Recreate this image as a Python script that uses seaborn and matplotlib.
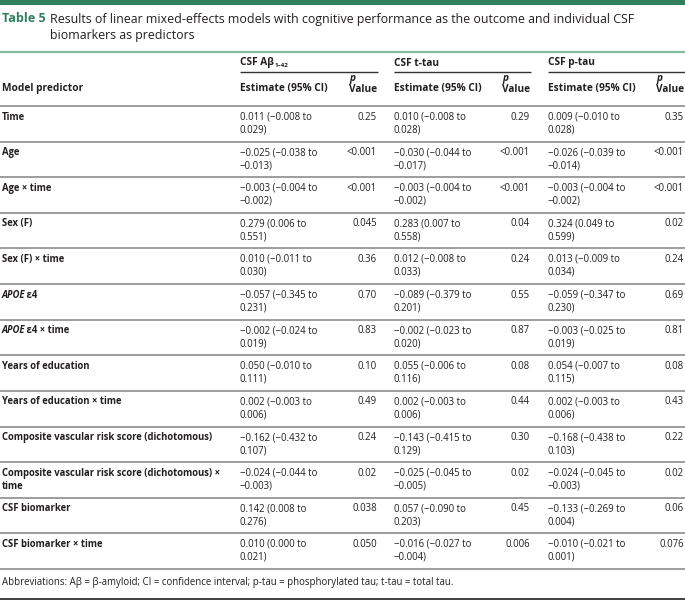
import matplotlib
matplotlib.use("Agg")
import matplotlib.pyplot as plt
import seaborn as sns

sns.set_theme(style="white")
plt.rcParams["font.family"] = ["Open Sans", "DejaVu Sans"]

W, H = 685, 600
GREEN = "#2f7f5c"
TEXT = "#231f20"
RULE = "#8c8c8c"
FS_HEAD = 7.3
FS_LAB = 6.85
FS = 6.9
CAP_FS = 8.95

predictors = [
    "Time", "Age", "Age × time", "Sex (F)", "Sex (F) × time",
    "APOE| ε4", "APOE| ε4 × time", "Years of education",
    "Years of education × time",
    "Composite vascular risk score (dichotomous)",
    "Composite vascular risk score (dichotomous) ×\ntime",
    "CSF biomarker", "CSF biomarker × time",
]

groups = ["CSF Aβ", "CSF t-tau", "CSF p-tau"]

ab_est = ["0.011", "−0.025", "−0.003", "0.279", "0.010", "−0.057", "−0.002",
          "0.050", "0.002", "−0.162", "−0.024", "0.142", "0.010"]
ab_lo = ["−0.008", "−0.038", "−0.004", "0.006", "−0.011", "−0.345", "−0.024",
         "−0.010", "−0.003", "−0.432", "−0.044", "0.008", "0.000"]
ab_hi = ["0.029", "−0.013", "−0.002", "0.551", "0.030", "0.231", "0.019",
         "0.111", "0.006", "0.107", "−0.003", "0.276", "0.021"]
ab_p = ["0.25", "<0.001", "<0.001", "0.045", "0.36", "0.70", "0.83",
        "0.10", "0.49", "0.24", "0.02", "0.038", "0.050"]

tt_est = ["0.010", "−0.030", "−0.003", "0.283", "0.012", "−0.089", "−0.002",
          "0.055", "0.002", "−0.143", "−0.025", "0.057", "−0.016"]
tt_lo = ["−0.008", "−0.044", "−0.004", "0.007", "−0.008", "−0.379", "−0.023",
         "−0.006", "−0.003", "−0.415", "−0.045", "−0.090", "−0.027"]
tt_hi = ["0.028", "−0.017", "−0.002", "0.558", "0.033", "0.201", "0.020",
         "0.116", "0.006", "0.129", "−0.005", "0.203", "−0.004"]
tt_p = ["0.29", "<0.001", "<0.001", "0.04", "0.24", "0.55", "0.87",
        "0.08", "0.44", "0.30", "0.02", "0.45", "0.006"]

pt_est = ["0.009", "−0.026", "−0.003", "0.324", "0.013", "−0.059", "−0.003",
          "0.054", "0.002", "−0.168", "−0.024", "−0.133", "−0.010"]
pt_lo = ["−0.010", "−0.039", "−0.004", "0.049", "−0.009", "−0.347", "−0.025",
         "−0.007", "−0.003", "−0.438", "−0.045", "−0.269", "−0.021"]
pt_hi = ["0.028", "−0.014", "−0.002", "0.599", "0.034", "0.230", "0.019",
         "0.115", "0.006", "0.103", "−0.003", "0.004", "0.001"]
pt_p = ["0.35", "<0.001", "<0.001", "0.02", "0.24", "0.69", "0.81",
        "0.08", "0.43", "0.22", "0.02", "0.06", "0.076"]

columns = [
    (ab_est, ab_lo, ab_hi, ab_p),
    (tt_est, tt_lo, tt_hi, tt_p),
    (pt_est, pt_lo, pt_hi, pt_p),
]

title_lab = "Table 5"
title_txt = ["Results of linear mixed-effects models with cognitive performance as the outcome and individual CSF",
             "biomarkers as predictors"]
footnote = "Abbreviations: Aβ = β-amyloid; CI = confidence interval; p-tau = phosphorylated tau; t-tau = total tau."

# layout (pixels)
col_x = [240, 394, 548]
col_r = [378, 531, 685]
pval_r = [377, 530, 684]
row_top = 106
row_h = (569 - 106) / len(predictors)

fig = plt.figure(figsize=(W / 100, H / 100), dpi=100)
ax = fig.add_axes([0, 0, 1, 1])
ax.set_xlim(0, W)
ax.set_ylim(H, 0)
ax.axis("off")
fig.canvas.draw()
r = fig.canvas.get_renderer()


def px_width(t):
    return t.get_window_extent(renderer=r).width


def hline(y, x0=0, x1=W, color=RULE, lw=1.0):
    ax.plot([x0, x1], [y, y], color=color, lw=lw, solid_capstyle="butt")


# top bar and caption
ax.fill_between([0, W], 0, 4.5, color=GREEN, lw=0)
ax.text(2, 19, title_lab, fontsize=CAP_FS + 0.1, fontweight="bold", color=GREEN, va="center")
ax.text(50, 19, title_txt[0], fontsize=CAP_FS, color=TEXT, va="center")
ax.text(50, 36, title_txt[1], fontsize=CAP_FS, color=TEXT, va="center")
hline(52, color="#86b9a1", lw=1.6)

# group headers
for g, x0, x1 in zip(groups, col_x, col_r):
    gt = ax.text(x0, 63, g, fontsize=FS_HEAD, fontweight="bold", color=TEXT, va="center")
    if g == "CSF Aβ":
        w = px_width(gt)
        ax.text(x0 + w + 0.5, 65.5, "1–42", fontsize=FS_HEAD * 0.62, fontweight="bold",
                color=TEXT, va="center")
    hline(71.5, x0, x1, color="#333333", lw=1.0)

ax.text(2, 89, "Model predictor", fontsize=FS_HEAD, fontweight="bold", color=TEXT, va="center")
for x0, xr in zip(col_x, pval_r):
    ax.text(x0, 89, "Estimate (95% CI)", fontsize=FS_HEAD, fontweight="bold", color=TEXT, va="center")
    vt = ax.text(xr, 89, "Value", fontsize=FS_HEAD, fontweight="bold", color=TEXT,
                 va="center", ha="right")
    ax.text(xr - px_width(vt), 79, "p", fontsize=FS_HEAD, fontweight="bold", style="italic",
            color=TEXT, va="center")
hline(row_top, lw=1.2)

# body rows
for i, name in enumerate(predictors):
    y0 = row_top + i * row_h
    y1, y2 = y0 + 11, y0 + 24
    if "|" in name:
        ital, rest = name.split("|")
        it = ax.text(2, y1, ital, fontsize=FS_LAB, fontweight="bold", style="italic",
                     color=TEXT, va="center")
        ax.text(2 + px_width(it) - 1, y1, rest, fontsize=FS_LAB, fontweight="bold",
                color=TEXT, va="center")
    else:
        for k, ln in enumerate(name.split("\n")):
            ax.text(2, y1 + 13 * k, ln, fontsize=FS_LAB, fontweight="bold", color=TEXT, va="center")
    for (est, lo, hi, pv), x0, xr in zip(columns, col_x, pval_r):
        ax.text(x0, y1, f"{est[i]} ({lo[i]} to", fontsize=FS, color=TEXT, va="center")
        ax.text(x0, y2, f"{hi[i]})", fontsize=FS, color=TEXT, va="center")
        ax.text(xr, y1, pv[i], fontsize=FS, color=TEXT, va="center", ha="right")
    hline(row_top + (i + 1) * row_h, lw=1.2)

ax.text(2, 582, footnote, fontsize=FS, color=TEXT, va="center")
hline(598.5, color="#222222", lw=1.2)

fig.savefig("out.png", dpi=100)
plt.close(fig)
